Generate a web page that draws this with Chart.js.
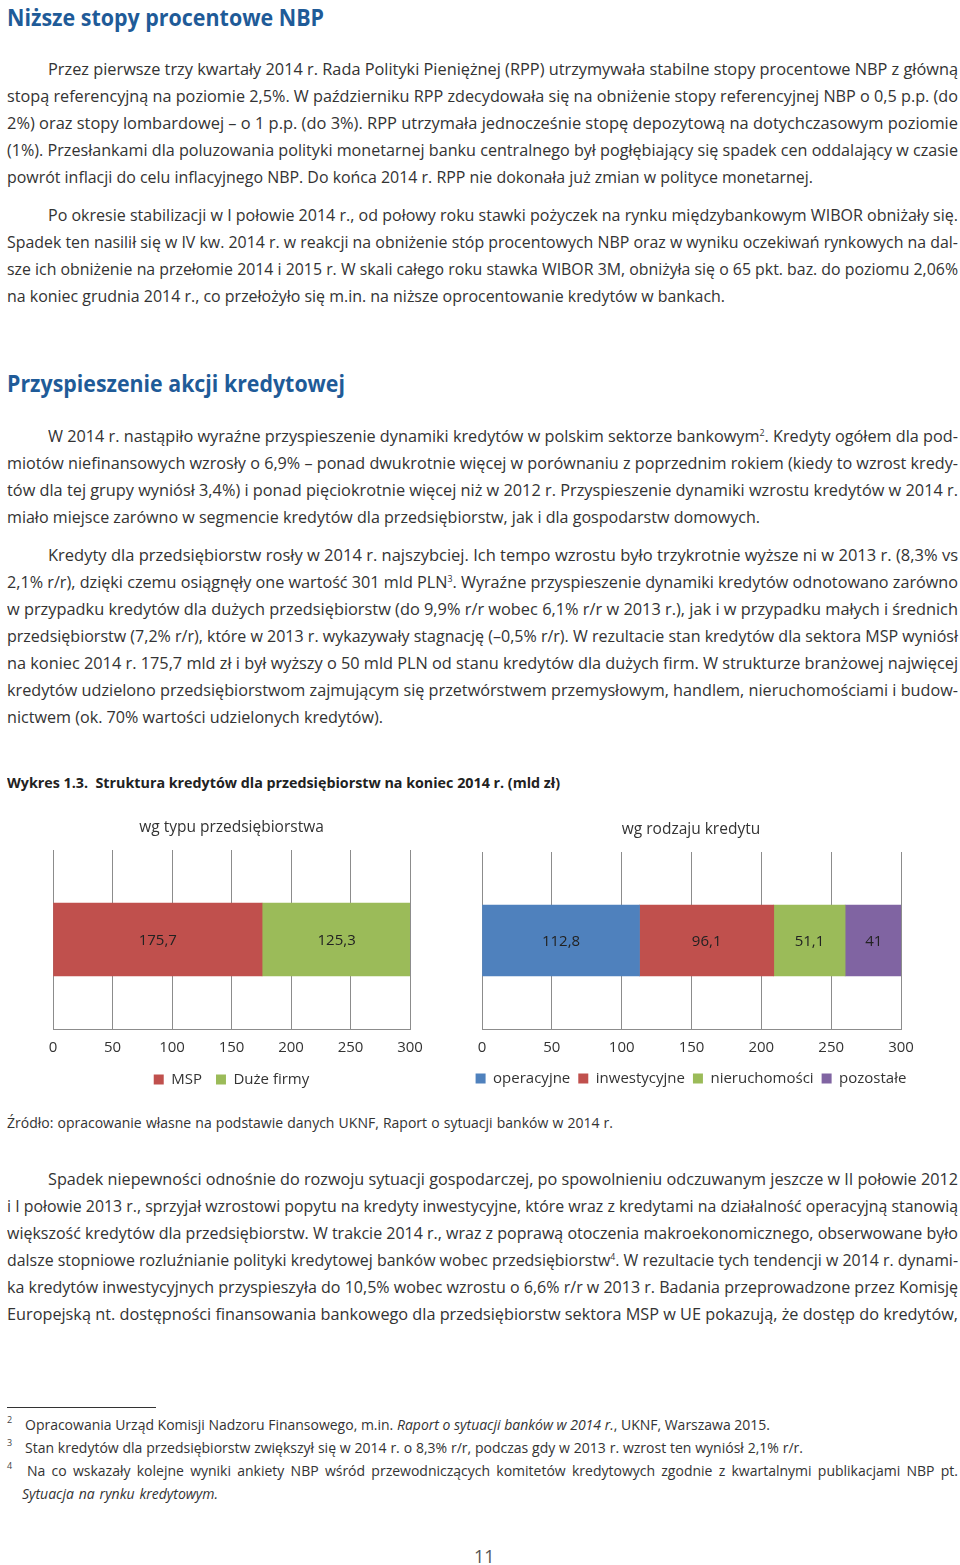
<!DOCTYPE html>
<html lang="pl">
<head>
<meta charset="utf-8">
<script src="https://cdn.jsdelivr.net/npm/chart.js@4.4.1/dist/chart.umd.min.js"></script>
<style>
html,body{margin:0;padding:0;background:#fff;}
body{width:960px;height:1565px;position:relative;overflow:hidden;font-family:"Open Sans",sans-serif;color:#333;}
.ln{position:absolute;white-space:nowrap;font-size:16.5px;line-height:22px;transform-origin:0 50%;}
.h{position:absolute;white-space:nowrap;font-size:23px;font-weight:700;color:#1f5b98;line-height:28px;transform-origin:0 50%;}
.cap{position:absolute;white-space:nowrap;font-size:15px;font-weight:700;color:#222;line-height:20px;transform-origin:0 50%;}
.src{position:absolute;white-space:nowrap;font-size:14px;line-height:20px;color:#333;transform-origin:0 50%;}
.fn{position:absolute;white-space:nowrap;font-size:14px;line-height:20px;color:#333;transform-origin:0 50%;}
.fnn{position:absolute;font-size:9px;line-height:10px;color:#444;}
.sup{font-size:9px;vertical-align:6px;line-height:0;}
.rule{position:absolute;left:7px;top:1407px;width:149px;height:1px;background:#333;}
.pg{position:absolute;left:474px;top:1545px;font-size:18px;line-height:22px;color:#555;}
.chartbox{position:absolute;}
</style>
</head>
<body>

<div class="h" style="left:7px;top:3px" data-w="317">Niższe stopy procentowe NBP</div>

<div class="ln" style="left:48px;top:58px" data-w="910">Przez pierwsze trzy kwartały 2014 r. Rada Polityki Pieniężnej (RPP) utrzymywała stabilne stopy procentowe NBP z główną</div>
<div class="ln" style="left:7px;top:85px" data-w="951">stopą referencyjną na poziomie 2,5%. W październiku RPP zdecydowała się na obniżenie stopy referencyjnej NBP o 0,5 p.p. (do</div>
<div class="ln" style="left:7px;top:112px" data-w="951">2%) oraz stopy lombardowej – o 1 p.p. (do 3%). RPP utrzymała jednocześnie stopę depozytową na dotychczasowym poziomie</div>
<div class="ln" style="left:7px;top:139px" data-w="951">(1%). Przesłankami dla poluzowania polityki monetarnej banku centralnego był pogłębiający się spadek cen oddalający w czasie</div>
<div class="ln" style="left:7px;top:166px" data-w="806">powrót inflacji do celu inflacyjnego NBP. Do końca 2014 r. RPP nie dokonała już zmian w polityce monetarnej.</div>

<div class="ln" style="left:48px;top:204px" data-w="910">Po okresie stabilizacji w I połowie 2014 r., od połowy roku stawki pożyczek na rynku międzybankowym WIBOR obniżały się.</div>
<div class="ln" style="left:7px;top:231px" data-w="951">Spadek ten nasilił się w IV kw. 2014 r. w reakcji na obniżenie stóp procentowych NBP oraz w wyniku oczekiwań rynkowych na dal-</div>
<div class="ln" style="left:7px;top:258px" data-w="951">sze ich obniżenie na przełomie 2014 i 2015 r. W skali całego roku stawka WIBOR 3M, obniżyła się o 65 pkt. baz. do poziomu 2,06%</div>
<div class="ln" style="left:7px;top:285px" data-w="718">na koniec grudnia 2014 r., co przełożyło się m.in. na niższe oprocentowanie kredytów w bankach.</div>

<div class="h" style="left:7px;top:369px" data-w="338">Przyspieszenie akcji kredytowej</div>

<div class="ln" style="left:48px;top:425px" data-w="910">W 2014 r. nastąpiło wyraźne przyspieszenie dynamiki kredytów w polskim sektorze bankowym<span class="sup">2</span>. Kredyty ogółem dla pod-</div>
<div class="ln" style="left:7px;top:452px" data-w="951">miotów niefinansowych wzrosły o 6,9% – ponad dwukrotnie więcej w porównaniu z poprzednim rokiem (kiedy to wzrost kredy-</div>
<div class="ln" style="left:7px;top:479px" data-w="951">tów dla tej grupy wyniósł 3,4%) i ponad pięciokrotnie więcej niż w 2012 r. Przyspieszenie dynamiki wzrostu kredytów w 2014 r.</div>
<div class="ln" style="left:7px;top:506px" data-w="753">miało miejsce zarówno w segmencie kredytów dla przedsiębiorstw, jak i dla gospodarstw domowych.</div>

<div class="ln" style="left:48px;top:544px" data-w="910">Kredyty dla przedsiębiorstw rosły w 2014 r. najszybciej. Ich tempo wzrostu było trzykrotnie wyższe ni w 2013 r. (8,3% vs</div>
<div class="ln" style="left:7px;top:571px" data-w="951">2,1% r/r), dzięki czemu osiągnęły one wartość 301 mld PLN<span class="sup">3</span>. Wyraźne przyspieszenie dynamiki kredytów odnotowano zarówno</div>
<div class="ln" style="left:7px;top:598px" data-w="951">w przypadku kredytów dla dużych przedsiębiorstw (do 9,9% r/r wobec 6,1% r/r w 2013 r.), jak i w przypadku małych i średnich</div>
<div class="ln" style="left:7px;top:625px" data-w="951">przedsiębiorstw (7,2% r/r), które w 2013 r. wykazywały stagnację (–0,5% r/r). W rezultacie stan kredytów dla sektora MSP wyniósł</div>
<div class="ln" style="left:7px;top:652px" data-w="951">na koniec 2014 r. 175,7 mld zł i był wyższy o 50 mld PLN od stanu kredytów dla dużych firm. W strukturze branżowej najwięcej</div>
<div class="ln" style="left:7px;top:679px" data-w="951">kredytów udzielono przedsiębiorstwom zajmującym się przetwórstwem przemysłowym, handlem, nieruchomościami i budow-</div>
<div class="ln" style="left:7px;top:706px" data-w="376">nictwem (ok. 70% wartości udzielonych kredytów).</div>

<div class="cap" style="left:7px;top:772px" data-w="553">Wykres 1.3.&nbsp; Struktura kredytów dla przedsiębiorstw na koniec 2014 r. (mld zł)</div>

<div class="chartbox" style="left:0px;top:800px;width:470px;height:300px"><canvas id="c1" width="470" height="300"></canvas></div>
<div class="chartbox" style="left:460px;top:800px;width:500px;height:300px"><canvas id="c2" width="500" height="300"></canvas></div>

<div class="src" style="left:7px;top:1113px" data-w="606">Źródło: opracowanie własne na podstawie danych UKNF, Raport o sytuacji banków w 2014 r.</div>

<div class="ln" style="left:48px;top:1168px" data-w="910">Spadek niepewności odnośnie do rozwoju sytuacji gospodarczej, po spowolnieniu odczuwanym jeszcze w II połowie 2012</div>
<div class="ln" style="left:7px;top:1195px" data-w="951">i I połowie 2013 r., sprzyjał wzrostowi popytu na kredyty inwestycyjne, które wraz z kredytami na działalność operacyjną stanowią</div>
<div class="ln" style="left:7px;top:1222px" data-w="951">większość kredytów dla przedsiębiorstw. W trakcie 2014 r., wraz z poprawą otoczenia makroekonomicznego, obserwowane było</div>
<div class="ln" style="left:7px;top:1249px" data-w="951">dalsze stopniowe rozluźnianie polityki kredytowej banków wobec przedsiębiorstw<span class="sup">4</span>. W rezultacie tych tendencji w 2014 r. dynami-</div>
<div class="ln" style="left:7px;top:1276px" data-w="951">ka kredytów inwestycyjnych przyspieszyła do 10,5% wobec wzrostu o 6,6% r/r w 2013 r. Badania przeprowadzone przez Komisję</div>
<div class="ln" style="left:7px;top:1303px" data-w="951">Europejską nt. dostępności finansowania bankowego dla przedsiębiorstw sektora MSP w UE pokazują, że dostęp do kredytów,</div>

<div class="rule"></div>
<div class="fnn" style="left:7px;top:1415px">2</div>
<div class="fn" style="left:25px;top:1415px" data-w="745">Opracowania Urząd Komisji Nadzoru Finansowego, m.in. <i>Raport o sytuacji banków w 2014 r.</i>, UKNF, Warszawa 2015.</div>
<div class="fnn" style="left:7px;top:1438px">3</div>
<div class="fn" style="left:25px;top:1438px" data-w="778">Stan kredytów dla przedsiębiorstw zwiększył się w 2014 r. o 8,3% r/r, podczas gdy w 2013 r. wzrost ten wyniósł 2,1% r/r.</div>
<div class="fnn" style="left:7px;top:1461px">4</div>
<div class="fn" style="left:27px;top:1461px" data-w="931">Na co wskazały kolejne wyniki ankiety NBP wśród przewodniczących komitetów kredytowych zgodnie z kwartalnymi publikacjami NBP pt.</div>
<div class="fn" style="left:22px;top:1484px" data-w="196"><i>Sytuacja na rynku kredytowym.</i></div>

<div class="pg">11</div>

<script>
// ---- text line fitting (justification) ----
(function fit(){
  document.querySelectorAll('[data-w]').forEach(function(el){
    var tw = parseFloat(el.dataset.w);
    var w = el.getBoundingClientRect().width;
    if (w < tw) {
      var n = (el.textContent.match(/ /g) || []).length;
      if (n > 0) el.style.wordSpacing = ((tw - w) / n) + 'px';
    } else if (w > tw) {
      el.style.transform = 'scaleX(' + (tw / w) + ')';
    }
  });
})();

// ---- chart data ----
const chartTitles = ['wg typu przedsiębiorstwa', 'wg rodzaju kredytu'];
const typeCategories = ['MSP', 'Duże firmy'];
const typeValues = [175.7, 125.3];
const loanCategories = ['operacyjne', 'inwestycyjne', 'nieruchomości', 'pozostałe'];
const loanValues = [112.8, 96.1, 51.1, 41];
const xTickValues = [0, 50, 100, 150, 200, 250, 300];

// ---- styles ----
const typeColors = ['#c0504d', '#9bbb59'];
const loanColors = ['#4f81bd', '#c0504d', '#9bbb59', '#8064a2'];
const gridColor = '#8c8c8c';
const textColor = '#333';
const fontFamily = '"Open Sans", sans-serif';

Chart.defaults.font.family = fontFamily;
Chart.defaults.color = textColor;

const valueLabels = {
  id: 'valueLabels',
  afterDatasetsDraw(chart) {
    const ctx = chart.ctx;
    ctx.save();
    ctx.font = '15px ' + fontFamily;
    ctx.fillStyle = '#222';
    ctx.textAlign = 'center';
    ctx.textBaseline = 'middle';
    chart.data.datasets.forEach((ds, i) => {
      const meta = chart.getDatasetMeta(i);
      meta.data.forEach((bar, j) => {
        const v = ds.data[j];
        ctx.fillText(String(v).replace('.', ','), (bar.x + bar.base) / 2, bar.y + 1);
      });
    });
    ctx.restore();
  }
};

function hiddenAxis(pos, w) {
  return {
    position: pos, type: 'category', display: true, stacked: true,
    ticks: { display: false }, grid: { display: false }, border: { display: false },
    afterFit: s => { s.width = w; }
  };
}

function makeChart(id, title, cats, vals, colors, cfg) {
  const scales = {
    x: {
      stacked: true,
      min: 0,
      max: 300,
      afterBuildTicks: s => { s.ticks = xTickValues.map(v => ({ value: v })); },
      afterFit: s => { s.height = cfg.axisH; },
      grid: { color: gridColor, lineWidth: 1, drawTicks: false },
      border: { color: gridColor, width: 1 },
      ticks: { padding: 10, color: textColor, font: { size: 15 } }
    },
    y: cfg.yLeft ? hiddenAxis('left', cfg.yLeft) : { stacked: true, display: false }
  };
  if (cfg.yRight) scales.yR = hiddenAxis('right', cfg.yRight);
  return new Chart(document.getElementById(id), {
    type: 'bar',
    data: {
      labels: [''],
      datasets: cats.map((c, i) => ({
        label: c,
        data: [vals[i]],
        backgroundColor: colors[i],
        borderWidth: 0,
        barThickness: cfg.thickness
      }))
    },
    options: {
      responsive: false,
      animation: false,
      indexAxis: 'y',
      layout: { padding: cfg.pad },
      scales: scales,
      plugins: {
        tooltip: { enabled: false },
        title: {
          display: true,
          text: title,
          color: textColor,
          font: { size: 15.5, weight: 'normal' },
          padding: { top: 8, bottom: 13.4 }
        },
        legend: {
          position: 'bottom',
          labels: { boxWidth: 10, boxHeight: 10, padding: cfg.legendPad, color: textColor, font: { size: 15 } }
        }
      }
    },
    plugins: [valueLabels]
  });
}

makeChart('c1', chartTitles[0], typeCategories, typeValues, typeColors, {
  thickness: 73, axisH: 29, legendPad: 14,
  pad: { left: 53, right: 60, top: 10, bottom: 3 }
});
makeChart('c2', chartTitles[1], loanCategories, loanValues, loanColors, {
  thickness: 71, axisH: 34, legendPad: 8, yLeft: 22, yRight: 21,
  pad: { left: 0, right: 38, top: 12, bottom: 4 }
});
</script>
</body>
</html>
